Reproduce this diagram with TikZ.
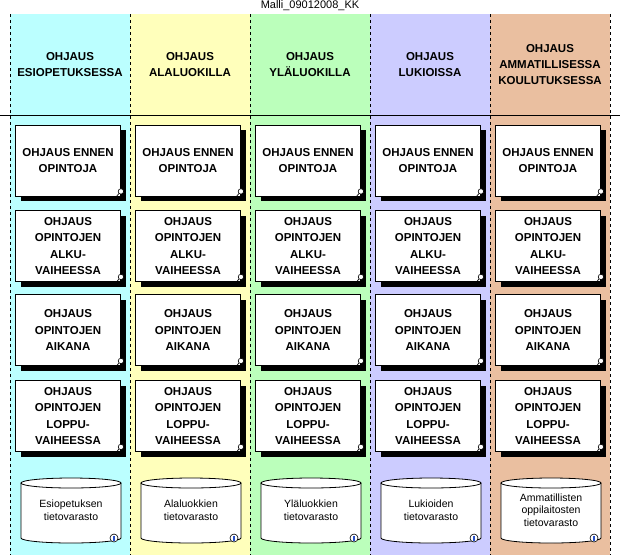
\documentclass[tikz,border=0pt]{standalone}
\usepackage{fontspec}
\setmainfont{Liberation Sans}
\usetikzlibrary{calc, shadows}

\definecolor{esiCyan}{RGB}{187,255,255}
\definecolor{alaYellow}{RGB}{255,255,187}
\definecolor{ylaGreen}{RGB}{187,255,187}
\definecolor{lukioLilac}{RGB}{204,204,255}
\definecolor{ammSalmon}{RGB}{234,191,160}
\definecolor{infoBlue}{RGB}{40,80,200}

\begin{document}
\begin{tikzpicture}[x=1pt, y=-1pt, line width=0.8pt,
    colhead/.style={font=\fontsize{11.5}{16}\selectfont\bfseries, align=center},
    phase/.style={draw, fill=white, minimum width=105pt, minimum height=71pt,
        align=center, font=\fontsize{11.5}{16.5}\selectfont\bfseries,
        drop shadow={shadow xshift=5pt, shadow yshift=-5pt, opacity=1, fill=black}},
    store/.style={align=center, font=\fontsize{10.5}{12.5}\selectfont},
    divider/.style={line width=0.7pt, dash pattern=on 3pt off 3pt}]

    % Picture frame
    \useasboundingbox (0,0) rectangle (620,555);

    % Title
    \node[font=\fontsize{11}{12}\selectfont] (title) at (310,6) {Malli\_09012008\_KK};

    % One column per school level
    \foreach \i/\tone/\head/\store in {
        1/esiCyan/{OHJAUS\\ESIOPETUKSESSA}/{Esiopetuksen\\tietovarasto},
        2/alaYellow/{OHJAUS\\ALALUOKILLA}/{Alaluokkien\\tietovarasto},
        3/ylaGreen/{OHJAUS\\YLÄLUOKILLA}/{Yläluokkien\\tietovarasto},
        4/lukioLilac/{OHJAUS\\LUKIOISSA}/{Lukioiden\\tietovarasto},
        5/ammSalmon/{OHJAUS\\AMMATILLISESSA\\KOULUTUKSESSA}/{Ammatillisten\\oppilaitosten\\tietovarasto}}
    {
        \pgfmathsetmacro{\cx}{120*\i-50}

        % Background band and header
        \fill[\tone] (\cx-60,14) rectangle (\cx+60,555);
        \node[colhead] (head\i) at (\cx,65) {\head};

        % Guidance phases
        \foreach \r/\ry/\txt in {
            1/160.5/{OHJAUS ENNEN\\OPINTOJA},
            2/246/{OHJAUS\\OPINTOJEN\\ALKU-\\VAIHEESSA},
            3/330/{OHJAUS\\OPINTOJEN\\AIKANA},
            4/416/{OHJAUS\\OPINTOJEN\\LOPPU-\\VAIHEESSA}}
        {
            \node[phase] (ph\i-\r) at (\cx-2,\ry) {\txt};
            \coordinate (pin\i-\r) at ([yshift=5pt]ph\i-\r.south east);
            \draw[line width=0.6pt] (pin\i-\r) -- +(-4.5pt,-5pt);
            \draw[line width=0.6pt, fill=white] (pin\i-\r) circle (2.7pt);
        }

        % Data store cylinder
        \fill[white] (\cx-49,483) rectangle (\cx+51,538);
        \fill[white] (\cx+1,538) ellipse [x radius=50pt, y radius=5pt];
        \draw (\cx-49,483) -- (\cx-49,538)
            arc[start angle=180, end angle=360, x radius=50pt, y radius=5pt]
            -- (\cx+51,483);
        \draw[fill=white] (\cx+1,483) ellipse [x radius=50pt, y radius=5pt];
        \node[store] (st\i) at (\cx+1,510) {\store};
        \coordinate (info\i) at (\cx+44,538);
        \draw[line width=0.6pt, fill=white] (info\i) circle (4pt);
        \draw[infoBlue, line width=1.2pt] ($(info\i)+(0,-2)$) -- ($(info\i)+(0,2.5)$);
    }

    % Column borders
    \foreach \k in {0,...,5}
        \draw[divider] (10+120*\k,14) -- (10+120*\k,555);

    % Header separator
    \draw (0,115) -- (620,115);

\end{tikzpicture}
\end{document}
